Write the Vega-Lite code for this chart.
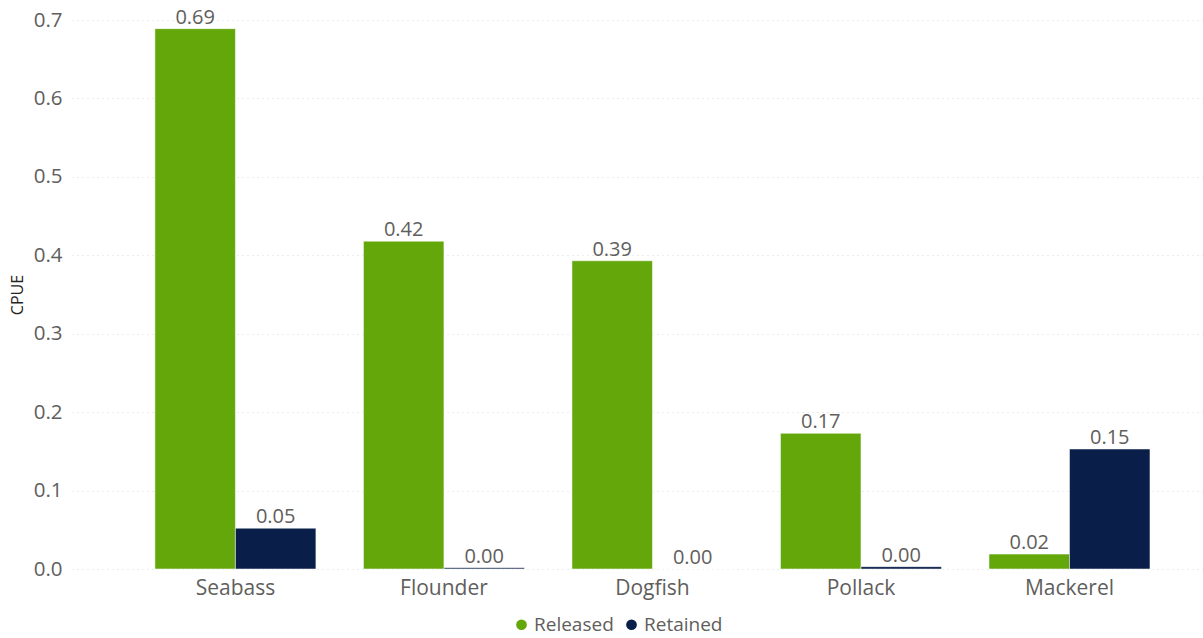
{
  "$schema": "https://vega.github.io/schema/vega-lite/v6.json",
  "autosize": "none",
  "width": 1131,
  "height": 549,
  "padding": {"left": 72, "top": 20, "right": 0, "bottom": 69},
  "background": "white",
  "config": {
    "font": "Open Sans",
    "view": {"stroke": null}
  },
  "data": {
    "values": [
      {"species": "Seabass", "type": "Released", "cpue": 0.689},
      {"species": "Seabass", "type": "Retained", "cpue": 0.052},
      {"species": "Flounder", "type": "Released", "cpue": 0.418},
      {"species": "Flounder", "type": "Retained", "cpue": 0.0015},
      {"species": "Dogfish", "type": "Released", "cpue": 0.393},
      {"species": "Dogfish", "type": "Retained", "cpue": 0.0},
      {"species": "Pollack", "type": "Released", "cpue": 0.173},
      {"species": "Pollack", "type": "Retained", "cpue": 0.003},
      {"species": "Mackerel", "type": "Released", "cpue": 0.019},
      {"species": "Mackerel", "type": "Retained", "cpue": 0.153}
    ]
  },
  "encoding": {
    "x": {
      "field": "species",
      "type": "nominal",
      "sort": ["Seabass", "Flounder", "Dogfish", "Pollack", "Mackerel"],
      "scale": {"paddingInner": 0.228, "paddingOuter": 0.326, "align": 0.61},
      "axis": {
        "title": null,
        "labelAngle": 0,
        "labelFontSize": 21,
        "labelColor": "#605E5C",
        "labelPadding": 8,
        "ticks": false,
        "domain": false,
        "grid": false
      }
    },
    "xOffset": {"field": "type", "type": "nominal", "sort": ["Released", "Retained"]},
    "y": {
      "field": "cpue",
      "type": "quantitative",
      "scale": {"domain": [0, 0.7], "nice": false},
      "axis": {
        "title": "CPUE",
        "titleFontSize": 16,
        "titleFontWeight": "normal",
        "titleColor": "#252423",
        "titlePadding": 8,
        "values": [0, 0.1, 0.2, 0.3, 0.4, 0.5, 0.6, 0.7],
        "format": ".1f",
        "labelFontSize": 20.5,
        "labelColor": "#605E5C",
        "labelPadding": 10,
        "ticks": false,
        "domain": false,
        "grid": true,
        "gridColor": "#D9D9D9",
        "gridDash": [1, 4],
        "gridWidth": 1
      }
    }
  },
  "layer": [
    {
      "mark": {"type": "bar", "stroke": "white", "strokeWidth": 0.5},
      "encoding": {
        "color": {
          "field": "type",
          "type": "nominal",
          "scale": {"domain": ["Released", "Retained"], "range": ["#64A70B", "#0A1E4A"]},
          "legend": {
            "title": null,
            "orient": "none",
            "direction": "horizontal",
            "legendX": 440,
            "legendY": 595,
            "symbolType": "circle",
            "symbolSize": 150,
            "labelFontSize": 19,
            "labelColor": "#605E5C",
            "columnPadding": 8,
            "labelOffset": 3
          }
        }
      }
    },
    {
      "mark": {"type": "text", "baseline": "bottom", "dy": -1, "fontSize": 20, "color": "#605E5C"},
      "encoding": {
        "text": {"field": "cpue", "type": "quantitative", "format": ".2f"}
      }
    }
  ]
}
